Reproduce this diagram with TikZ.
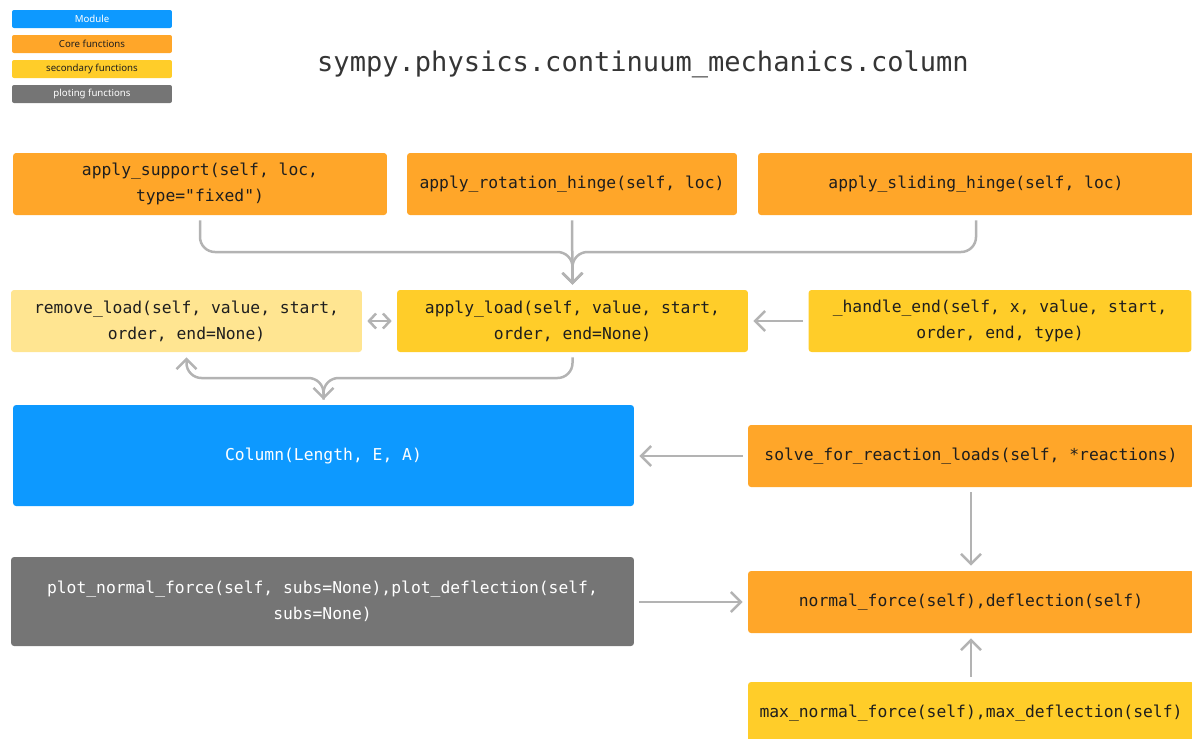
\documentclass[tikz,border=0pt]{standalone}
\usepackage{fontspec}
\setmainfont{Noto Sans}
\setmonofont{DejaVu Sans Mono}
\usetikzlibrary{arrows.meta}

\definecolor{modblue}{HTML}{0D99FF}
\definecolor{coreorange}{HTML}{FFA629}
\definecolor{secyellow}{HTML}{FFCD29}
\definecolor{lightyellow}{HTML}{FFE591}
\definecolor{plotgray}{HTML}{757575}
\definecolor{linkgray}{HTML}{B3B3B3}
\definecolor{inkdark}{HTML}{1E1E1E}

\tikzset{
  box/.style={rounded corners=0.06cm, inner sep=0pt, align=center, text=inkdark,
    font=\ttfamily\fontsize{9.3}{14.7}\selectfont, minimum height=1.24cm},
  corebox/.style={box, fill=coreorange},
  secbox/.style={box, fill=secyellow},
  modbox/.style={box, fill=modblue, text=white},
  plotbox/.style={box, fill=plotgray, text=white},
  key/.style={rounded corners=0.04cm, inner sep=0pt, minimum width=3.2cm, minimum height=0.36cm,
    font=\fontsize{5.5}{6}\selectfont, text=inkdark},
  link/.style={draw=linkgray, line width=0.05cm, shorten <=0.1cm, shorten >=0.1cm,
    -{Straight Barb[length=0.2cm,width=0.4cm]}},
  twoway/.style={draw=linkgray, line width=0.05cm, shorten <=0.1cm, shorten >=0.1cm,
    {Straight Barb[length=0.14cm,width=0.3cm]}-{Straight Barb[length=0.14cm,width=0.3cm]}}
}

\begin{document}
\begin{tikzpicture}[x=0.02cm, y=-0.02cm]
  \useasboundingbox (0,0) rectangle (1192,738);

  % legend
  \node[key, fill=modblue, text=white] (keymod) at (92,19) {Module};
  \node[key, fill=coreorange] (keycore) at (92,44) {Core functions};
  \node[key, fill=secyellow] (keysec) at (92,69) {secondary functions};
  \node[key, fill=plotgray, text=white] (keyplot) at (92,94) {ploting functions};

  \node[font=\ttfamily\fontsize{15.4}{18}\selectfont, text=inkdark!90] (title) at (643,64)
    {sympy.physics.continuum\_mechanics.column};

  % boxes
  \node[corebox, minimum width=7.48cm] (support) at (200,184) {apply\_support(self, loc,\\type="fixed")};
  \node[corebox, minimum width=6.6cm] (rothinge) at (572,184) {apply\_rotation\_hinge(self, loc)};
  \node[corebox, minimum width=8.72cm] (slidehinge) at (976,184) {apply\_sliding\_hinge(self, loc)};

  \node[box, fill=lightyellow, minimum width=7.02cm] (remload) at (186.5,321) {remove\_load(self, value, start,\\order, end=None)};
  \node[secbox, minimum width=7.02cm] (applyload) at (572.5,321) {apply\_load(self, value, start,\\order, end=None)};
  \node[secbox, minimum width=7.66cm] (handleend) at (1000,321) {\_handle\_end(self, x, value, start,\\order, end, type)};

  \node[modbox, minimum width=12.42cm, minimum height=2.02cm] (column) at (323.5,455.5) {Column(Length, E, A)};
  \node[corebox, minimum width=8.92cm] (solve) at (971,456) {solve\_for\_reaction\_loads(self, *reactions)};

  \node[plotbox, minimum width=12.46cm, minimum height=1.78cm] (plot) at (322.5,601.5) {plot\_normal\_force(self, subs=None),plot\_deflection(self,\\subs=None)};
  \node[corebox, minimum width=8.92cm] (normal) at (971,602) {normal\_force(self),deflection(self)};
  \node[secbox, minimum width=8.92cm] (maxnf) at (971,713) {max\_normal\_force(self),max\_deflection(self)};

  % connectors
  \coordinate (merge) at (572.5,252);
  \coordinate (fork) at (323.5,378);
  \draw[link, rounded corners=0.3cm] (support.south) |- (merge) -- (applyload.north);
  \draw[link, rounded corners=0.3cm] (slidehinge.south) |- (merge) -- (applyload.north);
  \draw[link] (rothinge.south) -- (applyload.north);

  \draw[twoway] (remload) -- (applyload);
  \draw[link] (handleend) -- (applyload);

  \draw[link, rounded corners=0.3cm] (applyload.south) |- (fork) -- (column.north);
  \draw[link, rounded corners=0.3cm] (column.north) -- (fork) -| (remload.south);

  \draw[link] (solve.west) -- (solve.west -| column.east);
  \draw[link] (solve) -- (normal);
  \draw[link] (plot.east |- normal.west) -- (normal.west);
  \draw[link] (maxnf) -- (normal);
\end{tikzpicture}
\end{document}
